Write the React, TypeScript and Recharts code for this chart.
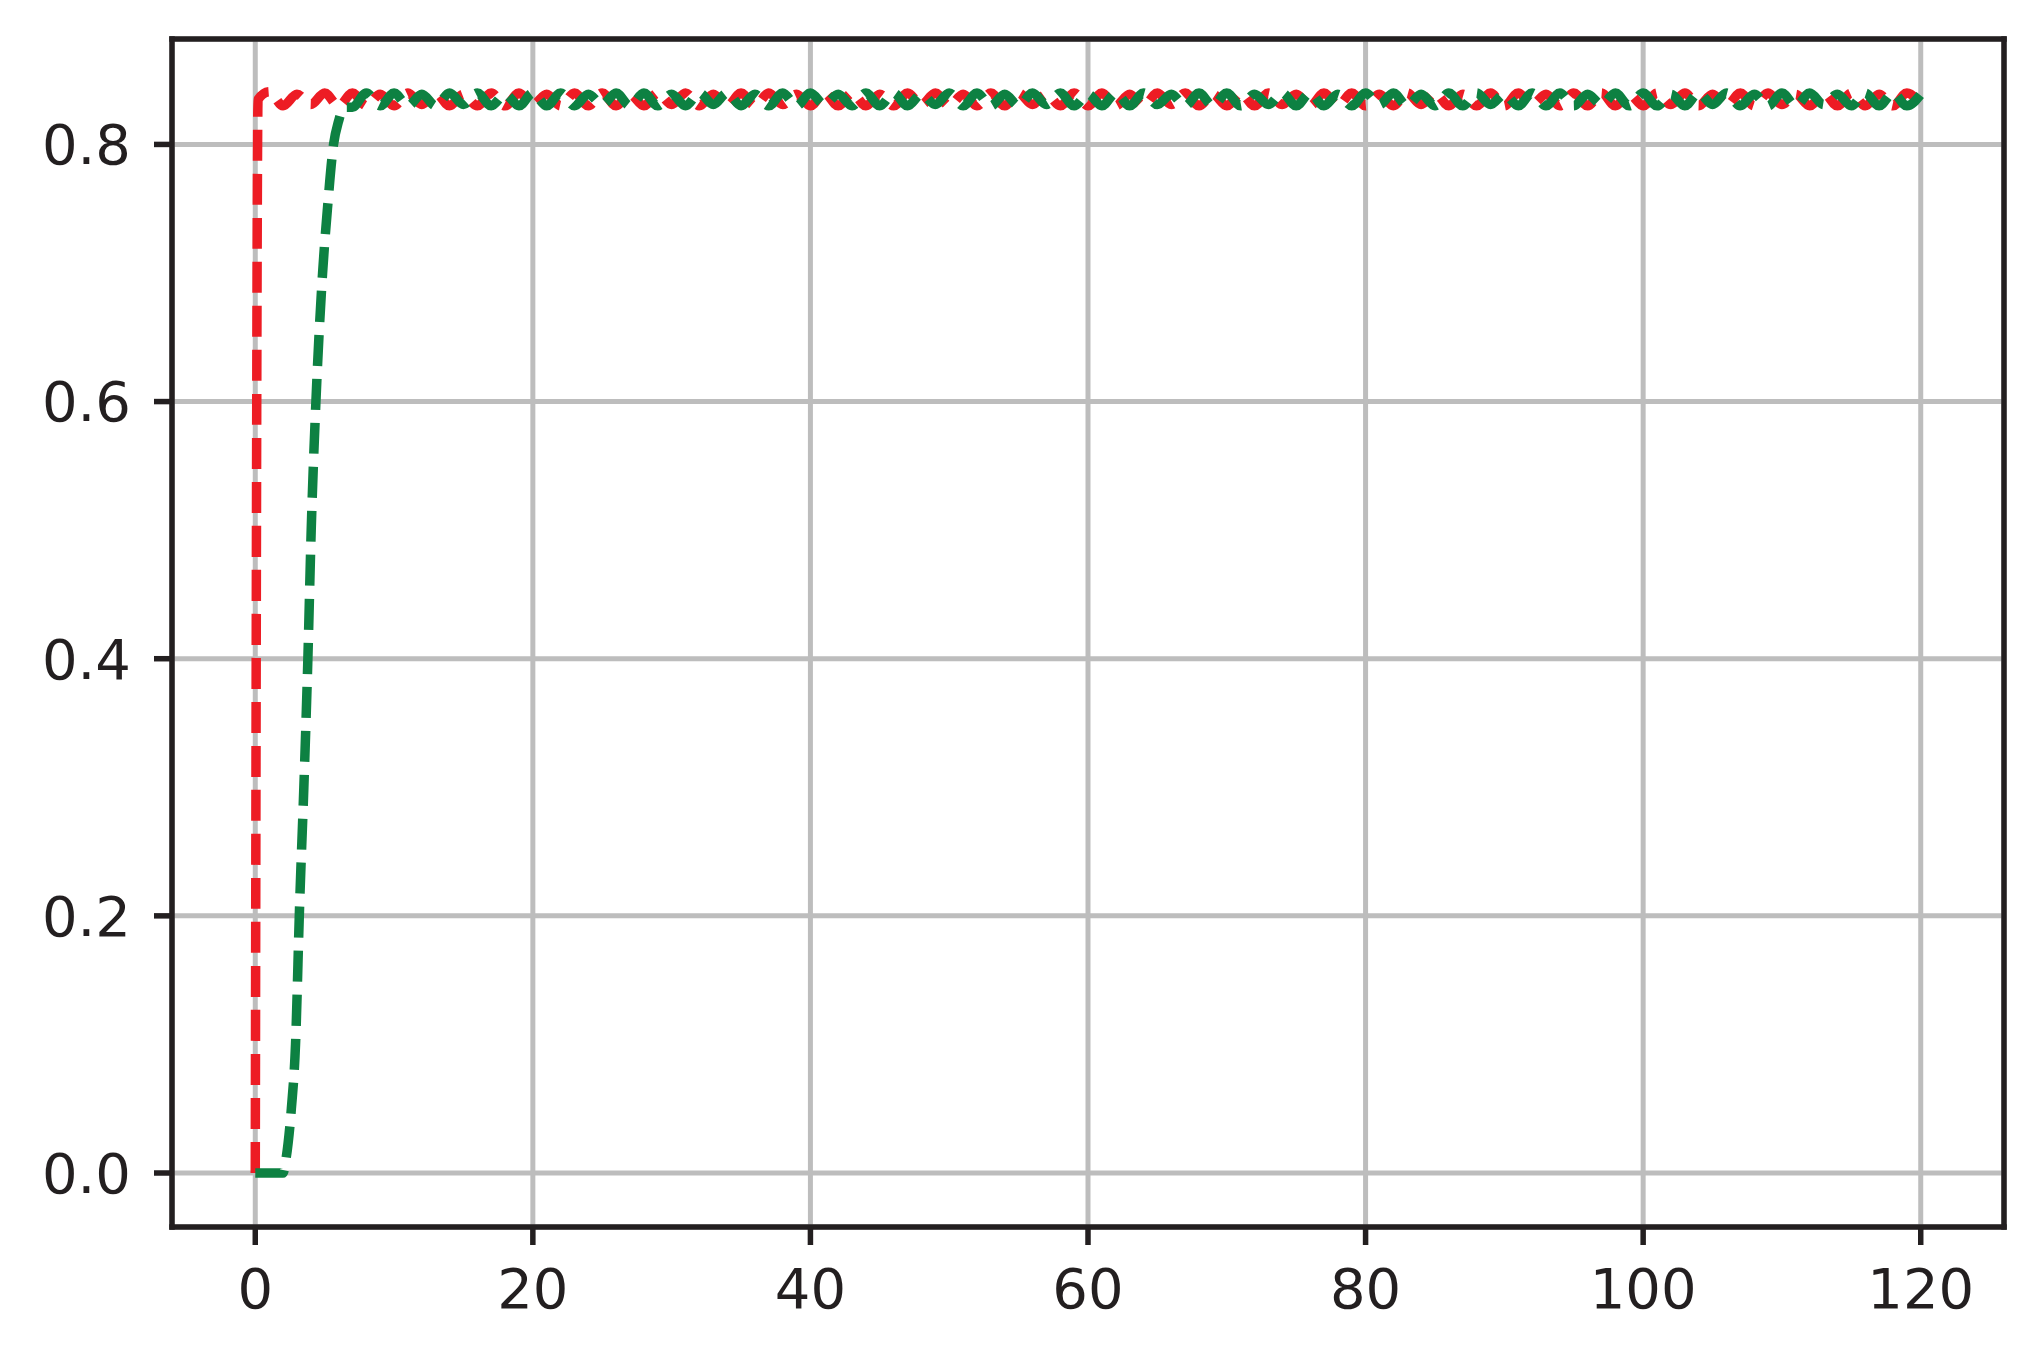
import { LineChart, Line, XAxis, YAxis, CartesianGrid, ReferenceLine } from 'recharts';

// time steps of the settled part (1 .. 120)
const time = [
  1, 2, 3, 4, 5, 6, 7, 8, 9, 10, 11, 12, 13, 14, 15, 16, 17, 18, 19, 20,
  21, 22, 23, 24, 25, 26, 27, 28, 29, 30, 31, 32, 33, 34, 35, 36, 37, 38, 39, 40,
  41, 42, 43, 44, 45, 46, 47, 48, 49, 50, 51, 52, 53, 54, 55, 56, 57, 58, 59, 60,
  61, 62, 63, 64, 65, 66, 67, 68, 69, 70, 71, 72, 73, 74, 75, 76, 77, 78, 79, 80,
  81, 82, 83, 84, 85, 86, 87, 88, 89, 90, 91, 92, 93, 94, 95, 96, 97, 98, 99, 100,
  101, 102, 103, 104, 105, 106, 107, 108, 109, 110, 111, 112, 113, 114, 115, 116, 117, 118, 119, 120,
];

// red response: jump at t = 0, then values for t = 1 .. 120
const redStartTime = [0, 0.2];
const redStartValue = [0, 0.835];
const redValue = [
  0.841, 0.830, 0.839, 0.831, 0.840, 0.830, 0.840, 0.830, 0.839, 0.830,
  0.840, 0.831, 0.840, 0.830, 0.839, 0.830, 0.840, 0.830, 0.840, 0.831,
  0.839, 0.830, 0.840, 0.830, 0.840, 0.830, 0.839, 0.830, 0.840, 0.831,
  0.840, 0.830, 0.839, 0.830, 0.840, 0.830, 0.840, 0.831, 0.839, 0.830,
  0.840, 0.830, 0.840, 0.830, 0.839, 0.830, 0.840, 0.831, 0.840, 0.830,
  0.839, 0.830, 0.840, 0.830, 0.840, 0.831, 0.839, 0.830, 0.840, 0.830,
  0.840, 0.830, 0.839, 0.830, 0.840, 0.831, 0.840, 0.830, 0.839, 0.830,
  0.840, 0.830, 0.840, 0.831, 0.839, 0.830, 0.840, 0.830, 0.840, 0.830,
  0.839, 0.830, 0.840, 0.831, 0.840, 0.830, 0.839, 0.830, 0.840, 0.830,
  0.840, 0.831, 0.839, 0.830, 0.840, 0.830, 0.840, 0.830, 0.839, 0.830,
  0.840, 0.831, 0.840, 0.830, 0.839, 0.830, 0.840, 0.830, 0.840, 0.831,
  0.839, 0.830, 0.840, 0.830, 0.840, 0.830, 0.839, 0.830, 0.840, 0.831,
];

// green response: delayed rise, then values for t = 7 .. 120
const greenRiseTime = [0, 1, 2, 2.2, 2.6, 2.9, 3.2, 3.5, 3.79, 4.03, 4.37, 4.85, 5.2, 5.64, 6.0, 6.4];
const greenRiseValue = [0, 0, 0, 0.01, 0.05, 0.1, 0.21, 0.3, 0.4, 0.5, 0.6, 0.7, 0.75, 0.8, 0.818, 0.829];
const greenValue = [
  0.829, 0.840, 0.830, 0.840, 0.830, 0.839, 0.830, 0.840, 0.831, 0.840,
  0.830, 0.839, 0.830, 0.840, 0.830, 0.840, 0.830, 0.839, 0.831, 0.840,
  0.830, 0.840, 0.830, 0.839, 0.830, 0.840, 0.831, 0.840, 0.830, 0.839,
  0.830, 0.840, 0.830, 0.840, 0.831, 0.839, 0.830, 0.840, 0.830, 0.840,
  0.830, 0.839, 0.831, 0.840, 0.830, 0.840, 0.830, 0.839, 0.830, 0.840,
  0.831, 0.840, 0.830, 0.839, 0.830, 0.840, 0.830, 0.840, 0.831, 0.839,
  0.830, 0.840, 0.830, 0.840, 0.830, 0.839, 0.831, 0.840, 0.830, 0.840,
  0.830, 0.839, 0.830, 0.840, 0.831, 0.840, 0.830, 0.839, 0.830, 0.840,
  0.830, 0.840, 0.831, 0.839, 0.830, 0.840, 0.830, 0.840, 0.830, 0.839,
  0.831, 0.840, 0.830, 0.840, 0.830, 0.839, 0.830, 0.840, 0.831, 0.840,
  0.830, 0.839, 0.830, 0.840, 0.830, 0.840, 0.831, 0.839, 0.830, 0.840,
  0.830, 0.840, 0.830, 0.839,
];

const xDomain = [-6, 126];
const yDomain = [-0.042, 0.882];
const xTicks = [0, 20, 40, 60, 80, 100, 120];
const yTicks = [0, 0.2, 0.4, 0.6, 0.8];

const redData = [
  ...redStartTime.map((t, i) => ({ t, v: redStartValue[i] })),
  ...time.map((t, i) => ({ t, v: redValue[i] })),
];
const greenData = [
  ...greenRiseTime.map((t, i) => ({ t, v: greenRiseValue[i] })),
  ...time.slice(6).map((t, i) => ({ t, v: greenValue[i] })),
];

const ink = '#231f20';
const font = { fill: ink, fontSize: 56, fontFamily: 'DejaVu Sans' };
const spine = { stroke: ink, strokeWidth: 5.5, strokeLinecap: 'square' as const };

export default function App() {
  return (
    <div style={{ position: 'absolute', left: 0, top: 0, width: 2033, height: 1349, background: '#fff' }}>
      <LineChart width={2033} height={1349} margin={{ top: 39, right: 29, bottom: 42, left: 0 }}>
        <CartesianGrid stroke="#bdbdbd" strokeWidth={5} />
        <XAxis
          type="number"
          dataKey="t"
          domain={xDomain}
          ticks={xTicks}
          allowDataOverflow
          height={80}
          tickSize={18}
          tickMargin={23}
          tick={font}
          tickLine={{ stroke: ink, strokeWidth: 5.5 }}
          axisLine={spine}
        />
        <YAxis
          type="number"
          domain={yDomain}
          ticks={yTicks}
          allowDataOverflow
          width={172}
          tickSize={18}
          tickMargin={23}
          tick={font}
          tickFormatter={(v: number) => v.toFixed(1)}
          tickLine={{ stroke: ink, strokeWidth: 5.5 }}
          axisLine={spine}
        />
        <Line
          data={redData}
          dataKey="v"
          type="monotone"
          stroke="#ed1c24"
          strokeWidth={9.5}
          strokeDasharray="31 13"
          strokeLinejoin="round"
          dot={false}
          activeDot={false}
          isAnimationActive={false}
        />
        <Line
          data={greenData}
          dataKey="v"
          type="monotone"
          stroke="#0d8142"
          strokeWidth={9.5}
          strokeDasharray="31 13"
          strokeLinejoin="round"
          dot={false}
          activeDot={false}
          isAnimationActive={false}
        />
        {/* top and right frame of the axes box */}
        <ReferenceLine y={yDomain[1]} {...spine} ifOverflow="visible" />
        <ReferenceLine x={xDomain[1]} {...spine} ifOverflow="visible" />
      </LineChart>
    </div>
  );
}
